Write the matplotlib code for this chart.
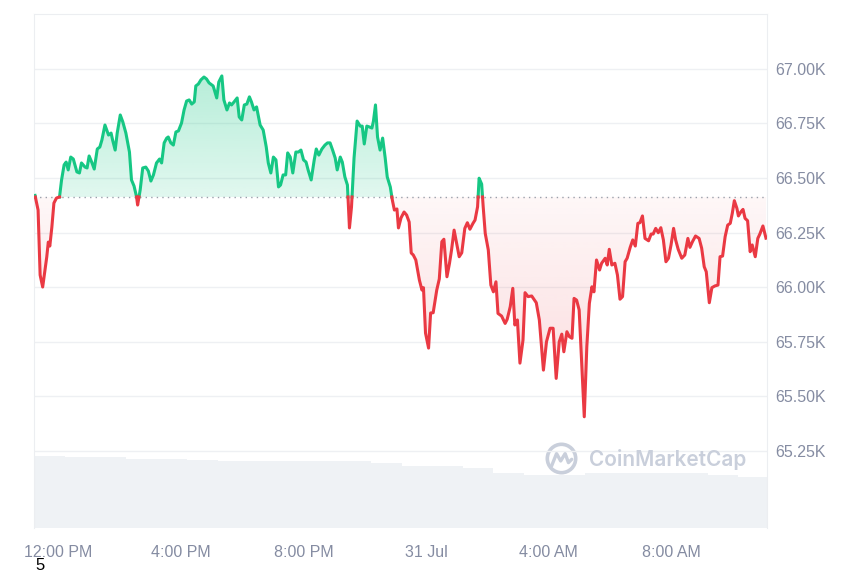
import numpy as np
import matplotlib.pyplot as plt
from matplotlib.path import Path
from matplotlib.patches import Circle
from matplotlib.colors import to_rgb

# BTC price, last 24h (minutes after 12:00 PM, 30 Jul)
minutes = [-46, -40, -36, -31, -23, -20, -17, -13, -9, -4,
           2, 6, 11, 15, 19, 24, 29, 36, 41, 45,
           52, 56, 60, 65, 70, 76, 81, 85, 91, 98,
           103, 106, 111, 115, 121, 126, 132, 139, 143, 148,
           153, 155, 160, 165, 171, 176, 181, 186, 192, 198,
           202, 207, 212, 215, 220, 225, 230, 235, 241, 246,
           251, 256, 261, 266, 269, 274, 279, 285, 290, 295,
           303, 310, 314, 320, 324, 330, 335, 339, 344, 350,
           354, 359, 364, 369, 374, 378, 383, 388, 395, 401,
           407, 411, 416, 421, 426, 431, 435, 440, 445, 449,
           454, 459, 465, 470, 475, 480, 485, 489, 495, 501,
           505, 510, 516, 522, 527, 532, 537, 542, 546, 552,
           556, 561, 566, 570, 574, 579, 585, 591, 595, 599,
           604, 609, 614, 617, 621, 625, 630, 635, 640, 644,
           650, 654, 658, 663, 666, 671, 677, 682, 687, 691,
           695, 700, 707, 712, 715, 719, 725, 729, 734, 741,
           746, 751, 755, 761, 766, 770, 775, 780, 785, 790,
           796, 801, 806, 812, 816, 821, 824, 829, 832, 836,
           842, 847, 852, 857, 861, 868, 875, 879, 885, 890,
           894, 899, 904, 910, 914, 920, 927, 936, 942, 950,
           956, 963, 969, 975, 981, 986, 990, 996, 1001, 1006,
           1010, 1015, 1020, 1030, 1035, 1040, 1045, 1049, 1054, 1060,
           1064, 1071, 1075, 1079, 1084, 1090, 1095, 1100, 1105, 1110,
           1114, 1120, 1125, 1130, 1135, 1139, 1144, 1149, 1156, 1161,
           1165, 1170, 1175, 1180, 1185, 1190, 1195, 1200, 1205, 1209,
           1214, 1221, 1227, 1233, 1237, 1242, 1248, 1255, 1260, 1265,
           1269, 1275, 1280, 1286, 1292, 1296, 1301, 1306, 1311, 1316,
           1320, 1324, 1329, 1332, 1337, 1341, 1345, 1350, 1355, 1359,
           1365, 1370, 1374, 1380, 1386]

price = [66420, 66353, 66055, 66000, 66138, 66206, 66188, 66275, 66385, 66408,
         66413, 66491, 66560, 66573, 66537, 66596, 66587, 66528, 66523, 66569,
         66550, 66546, 66601, 66573, 66541, 66633, 66642, 66674, 66743, 66697,
         66706, 66674, 66628, 66706, 66789, 66757, 66706, 66619, 66491, 66463,
         66413, 66376, 66445, 66546, 66550, 66532, 66486, 66514, 66569, 66587,
         66569, 66661, 66683, 66688, 66661, 66651, 66711, 66716, 66752, 66812,
         66853, 66858, 66839, 66849, 66922, 66931, 66950, 66963, 66954, 66936,
         66922, 66867, 66940, 66968, 66858, 66812, 66844, 66835, 66849, 66867,
         66780, 66766, 66835, 66839, 66872, 66849, 66812, 66826, 66743, 66720,
         66642, 66569, 66523, 66596, 66583, 66459, 66468, 66514, 66514, 66615,
         66596, 66523, 66619, 66619, 66628, 66583, 66573, 66537, 66491, 66583,
         66633, 66605, 66633, 66651, 66661, 66661, 66628, 66592, 66537, 66596,
         66573, 66505, 66468, 66271, 66367, 66592, 66761, 66738, 66738, 66656,
         66738, 66734, 66729, 66761, 66835, 66688, 66628, 66683, 66592, 66505,
         66459, 66399, 66353, 66358, 66271, 66317, 66344, 66330, 66298, 66156,
         66147, 66124, 66032, 65986, 65997, 65789, 65720, 65881, 65882, 65986,
         66037, 66208, 66219, 66047, 66109, 66170, 66261, 66200, 66139, 66157,
         66269, 66295, 66265, 66292, 66307, 66368, 66499, 66472, 66368, 66246,
         66170, 66009, 65978, 66024, 65879, 65867, 65833, 65852, 65910, 65994,
         65826, 65849, 65651, 65757, 65974, 65956, 65959, 65928, 65849, 65619,
         65749, 65811, 65811, 65581, 65749, 65784, 65703, 65795, 65772, 65765,
         65948, 65940, 65895, 65405, 65726, 65925, 66001, 65978, 66124, 66078,
         66109, 66132, 66101, 66173, 66101, 66109, 66055, 65944, 65956, 66116,
         66132, 66182, 66216, 66188, 66292, 66295, 66326, 66223, 66212, 66243,
         66243, 66269, 66249, 66272, 66216, 66116, 66132, 66193, 66269, 66216,
         66173, 66132, 66147, 66223, 66182, 66208, 66234, 66223, 66178, 66093,
         66070, 65928, 65997, 66005, 66009, 66139, 66142, 66231, 66284, 66292,
         66338, 66396, 66361, 66326, 66345, 66356, 66315, 66304, 66162, 66193,
         66139, 66223, 66243, 66280, 66224]

base_price = 66413  # price 24h ago (dotted line)

# 24h volume (billions), hourly, first hour starts at -48 min
vol_start = -48
volume = [28.0, 27.7, 27.7, 27.0, 26.8, 26.5, 26.1, 26.1, 26.1, 26.1,
          26.0, 25.2, 24.1, 24.1, 23.5, 21.5, 20.6, 20.7, 21.4, 21.4,
          21.4, 21.3, 20.6, 19.7]

x_ticks = [0, 240, 480, 720, 960, 1200]
x_labels = ['12:00 PM', '4:00 PM', '8:00 PM', '31 Jul', '4:00 AM', '8:00 AM']
y_ticks = [65250, 65500, 65750, 66000, 66250, 66500, 66750, 67000]

GREEN = '#16c784'
RED = '#ea3943'
GRID = '#eef0f3'
TICK = '#858ca2'

plt.rcParams['font.family'] = ['Liberation Sans', 'DejaVu Sans']


def split_at_base(x, y, b):
    # add the points where the line crosses the baseline
    xs, ys = [x[0]], [y[0]]
    for i in range(1, len(x)):
        y0, y1 = y[i - 1], y[i]
        if (y0 - b) * (y1 - b) < 0:
            f = (b - y0) / (y1 - y0)
            xs.append(x[i - 1] + f * (x[i] - x[i - 1]))
            ys.append(b)
        xs.append(x[i])
        ys.append(y1)
    return np.array(xs, float), np.array(ys, float)


def gradient_fill(ax, x, y, b, where, color, a_near, a_far, y_far):
    poly = ax.fill_between(x, y, b, where=where, interpolate=True,
                           facecolor='none', edgecolor='none')
    clip = Path.make_compound_path(*poly.get_paths())
    n = 256
    img = np.zeros((n, 1, 4))
    img[:, 0, :3] = to_rgb(color)
    if y_far > b:
        img[:, 0, 3] = np.linspace(a_near, a_far, n)
        ext = [x[0], x[-1], b, y_far]
    else:
        img[:, 0, 3] = np.linspace(a_far, a_near, n)
        ext = [x[0], x[-1], y_far, b]
    im = ax.imshow(img, extent=ext, origin='lower', aspect='auto',
                   interpolation='bilinear', zorder=1)
    im.set_clip_path(clip, transform=ax.transData)


fig = plt.figure(figsize=(8.6, 5.73), dpi=100)
ax = fig.add_axes([34 / 860, 1 - 528 / 573, 733 / 860, 514 / 573])
axv = ax.twinx()
ax.set_zorder(2)
axv.set_zorder(1)
ax.patch.set_visible(False)

# volume bars
vt = [vol_start + 60 * i for i in range(len(volume))]
axv.bar(vt, volume, width=60, align='edge', color='#eff2f5', linewidth=0)
axv.set_ylim(0, 200)
axv.set_yticks([])
for s in axv.spines.values():
    s.set_visible(False)

# price line
t, p = split_at_base(minutes, price, base_price)
gradient_fill(ax, t, p, base_price, p >= base_price, GREEN, 0.13, 0.32, 67000)
gradient_fill(ax, t, p, base_price, p <= base_price, RED, 0.04, 0.19, 65400)
ax.plot(t, np.where(p >= base_price, p, np.nan), color=GREEN, lw=2.2,
        solid_joinstyle='round', zorder=4)
ax.plot(t, np.where(p <= base_price, p, np.nan), color=RED, lw=2.2,
        solid_joinstyle='round', zorder=4)
ax.axhline(base_price, color='#9aa0ab', lw=1, ls=(0, (1, 3)), zorder=3)

ax.set_xlim(-48, 1388)
ax.set_ylim(64895, 67252)

ax.yaxis.tick_right()
ax.set_yticks(y_ticks)
ax.set_yticklabels(['%.2fK' % (v / 1000) for v in y_ticks])
ax.set_xticks(x_ticks)
ax.set_xticklabels(x_labels)
ax.tick_params(axis='y', length=0, pad=6, labelsize=11.5, labelcolor=TICK)
ax.tick_params(axis='x', length=0, pad=12, labelsize=11.5, labelcolor=TICK)
ax.grid(axis='y', color=GRID, lw=1, zorder=0)
ax.set_axisbelow(True)
for side in ['left', 'top', 'right']:
    ax.spines[side].set_color('#eceef1')
ax.spines['bottom'].set_visible(False)

# watermark
ax.text(0.757, 0.134, 'CoinMarketCap', transform=ax.transAxes,
        fontsize=15, fontweight='semibold', color='#c9cfdb',
        family=['Inter', 'DejaVu Sans'], ha='left', va='center', zorder=2)
axl = fig.add_axes([545 / 860, 1 - 475 / 573, 33 / 860, 33 / 573])
axl.set_xlim(-1, 1)
axl.set_ylim(-1, 1)
axl.set_aspect('equal')
axl.axis('off')
axl.add_patch(Circle((0, 0), 0.86, fill=False, ec='#c9cfdb', lw=2.6))
axl.plot([-0.6, -0.3, -0.05, 0.22, 0.42, 0.62], [-0.45, 0.3, -0.15, 0.3, -0.25, -0.05],
         color='#c9cfdb', lw=2.4, solid_joinstyle='round', solid_capstyle='round')

fig.text(40 / 860, 1 - 566 / 573, '5', ha='center', va='center',
         fontsize=12, color='black')

fig.savefig('out.png', dpi=100)
